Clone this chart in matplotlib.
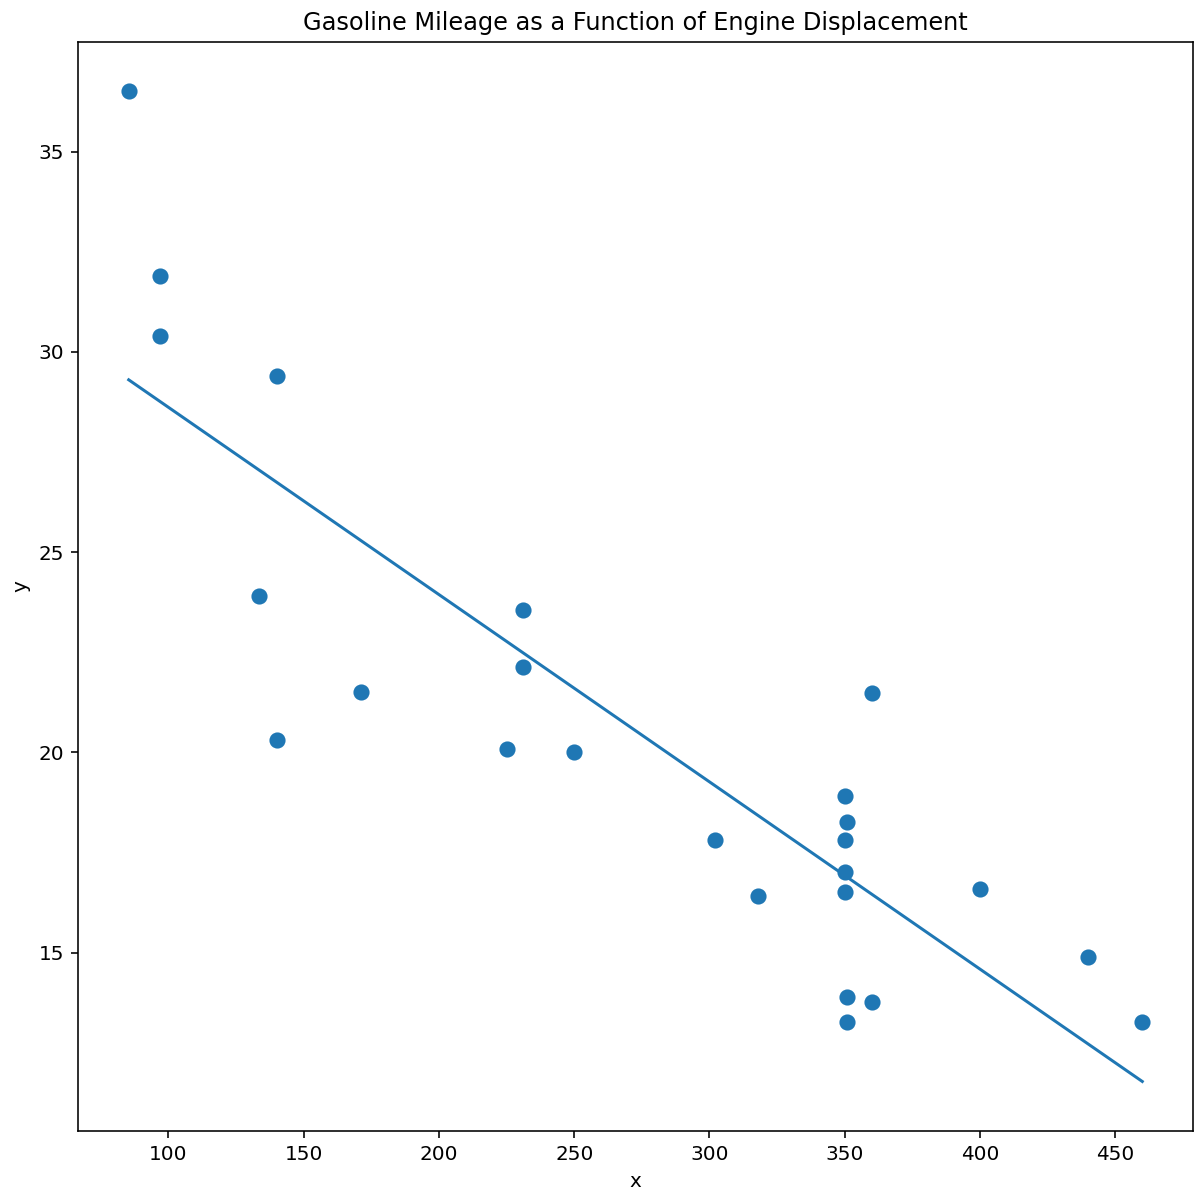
import matplotlib
matplotlib.use('Agg')
import matplotlib.pyplot as plt

# engine displacement (x) vs gasoline mileage (y)
displacement = [85.3, 96.9, 96.9, 140, 133.6, 171, 140, 225, 231, 231,
                250, 302, 318, 360, 350, 351, 350, 350, 350, 351,
                351, 360, 400, 440, 460]
mileage = [36.5, 31.9, 30.4, 29.4, 23.9, 21.5, 20.3, 20.07, 23.54, 22.12,
           20.0, 17.8, 16.41, 21.47, 18.9, 18.25, 17.8, 17.0, 16.5, 13.9,
           13.27, 13.77, 16.59, 14.89, 13.27]

# fitted line end points
line_x = [85.3, 460]
line_y = [29.3, 11.78]

fig = plt.figure(figsize=(1195 / 144, 1192 / 144), dpi=144)
ax = fig.add_axes([0.0653, 0.0512, 0.933, 0.9136])

ax.scatter(displacement, mileage, s=50)
ax.plot(line_x, line_y)

ax.set_title('Gasoline Mileage as a Function of Engine Displacement')
ax.set_xlabel('x')
ax.set_ylabel('y')

fig.savefig('out.png', dpi=144)
